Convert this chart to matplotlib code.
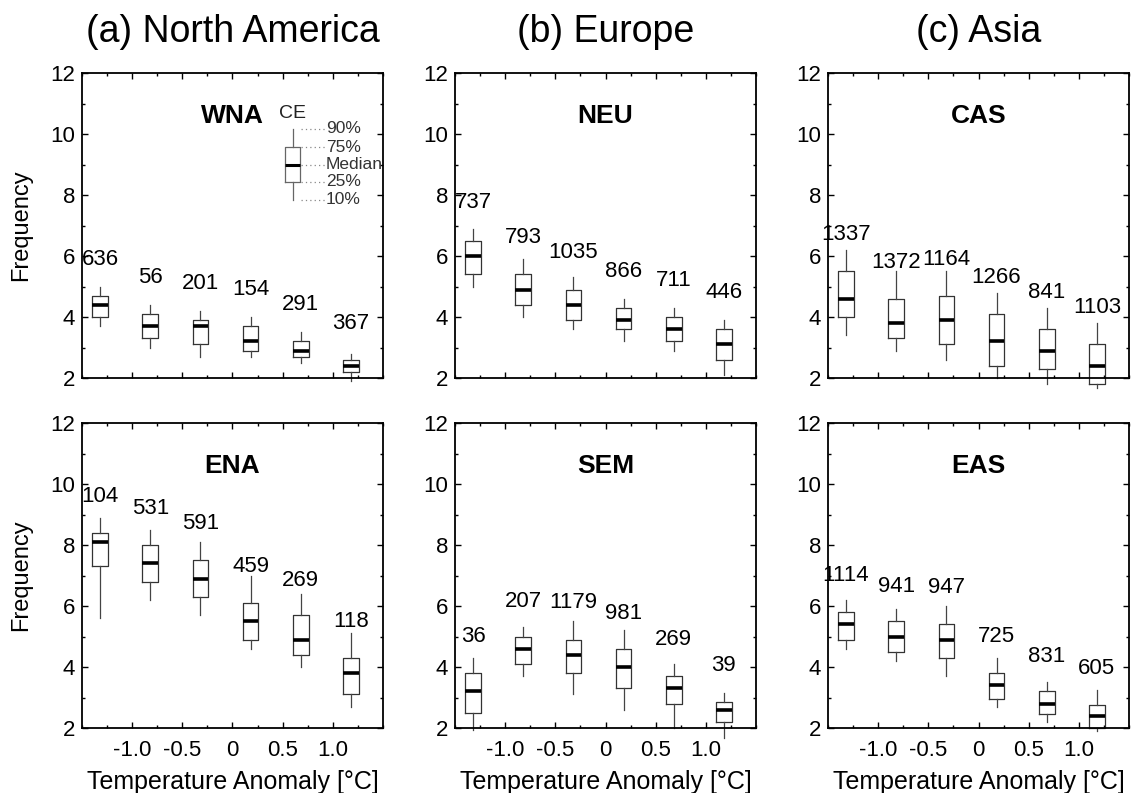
import matplotlib.pyplot as plt
import numpy as np
from matplotlib.ticker import MultipleLocator

plt.rcParams['font.family'] = ['Liberation Sans', 'DejaVu Sans']

# bin centres of temperature anomaly
positions = [-1.32, -0.82, -0.32, 0.18, 0.68, 1.18]

# WNA
wna_p10 = [3.7, 3.0, 2.7, 2.7, 2.5, 1.9]
wna_p25 = [4.0, 3.3, 3.1, 2.9, 2.7, 2.2]
wna_med = [4.4, 3.7, 3.7, 3.2, 2.9, 2.4]
wna_p75 = [4.7, 4.1, 3.9, 3.7, 3.2, 2.6]
wna_p90 = [5.0, 4.4, 4.2, 4.0, 3.5, 2.8]
wna_n = [636, 56, 201, 154, 291, 367]
wna_lab = [5.9, 5.3, 5.1, 4.9, 4.4, 3.8]

# NEU
neu_p10 = [5.0, 4.0, 3.6, 3.2, 2.9, 2.1]
neu_p25 = [5.4, 4.4, 3.9, 3.6, 3.2, 2.6]
neu_med = [6.0, 4.9, 4.4, 3.9, 3.6, 3.1]
neu_p75 = [6.5, 5.4, 4.9, 4.3, 4.0, 3.6]
neu_p90 = [6.9, 5.9, 5.3, 4.6, 4.3, 3.9]
neu_n = [737, 793, 1035, 866, 711, 446]
neu_lab = [7.75, 6.6, 6.1, 5.5, 5.2, 4.8]

# CAS
cas_p10 = [3.4, 2.9, 2.6, 2.0, 1.8, 1.67]
cas_p25 = [4.0, 3.3, 3.1, 2.4, 2.3, 1.8]
cas_med = [4.6, 3.8, 3.9, 3.2, 2.9, 2.4]
cas_p75 = [5.5, 4.6, 4.7, 4.1, 3.6, 3.1]
cas_p90 = [6.2, 5.5, 5.5, 4.8, 4.3, 3.8]
cas_n = [1337, 1372, 1164, 1266, 841, 1103]
cas_lab = [6.7, 5.8, 5.9, 5.3, 4.8, 4.3]

# ENA
ena_p10 = [5.6, 6.2, 5.7, 4.6, 4.0, 2.7]
ena_p25 = [7.3, 6.8, 6.3, 4.9, 4.4, 3.1]
ena_med = [8.1, 7.4, 6.9, 5.5, 4.9, 3.8]
ena_p75 = [8.4, 8.0, 7.5, 6.1, 5.7, 4.3]
ena_p90 = [8.9, 8.5, 8.1, 7.0, 6.4, 5.1]
ena_n = [104, 531, 591, 459, 269, 118]
ena_lab = [9.6, 9.2, 8.7, 7.3, 6.85, 5.5]

# SEM
sem_p10 = [1.95, 3.7, 3.1, 2.6, 2.0, 1.67]
sem_p25 = [2.5, 4.1, 3.8, 3.3, 2.8, 2.2]
sem_med = [3.2, 4.6, 4.4, 4.0, 3.3, 2.6]
sem_p75 = [3.8, 5.0, 4.9, 4.6, 3.7, 2.85]
sem_p90 = [4.3, 5.3, 5.5, 5.2, 4.1, 3.15]
sem_n = [36, 207, 1179, 981, 269, 39]
sem_lab = [5.0, 6.15, 6.1, 5.75, 4.9, 4.05]

# EAS
eas_p10 = [4.6, 4.2, 3.7, 2.7, 2.2, 1.9]
eas_p25 = [4.9, 4.5, 4.3, 2.95, 2.45, 2.0]
eas_med = [5.4, 5.0, 4.9, 3.4, 2.8, 2.4]
eas_p75 = [5.8, 5.5, 5.4, 3.8, 3.2, 2.75]
eas_p90 = [6.2, 5.9, 6.0, 4.3, 3.5, 3.25]
eas_n = [1114, 941, 947, 725, 831, 605]
eas_lab = [7.0, 6.65, 6.6, 5.0, 4.35, 3.95]

# key box (CE)
key_x = 0.6
key_stats = [7.85, 8.43, 9.0, 9.57, 10.17]
key_labels = ['10%', '25%', 'Median', '75%', '90%']

titles = ['(a) North America', '(b) Europe', '(c) Asia']

panels = [
    ('WNA', wna_p10, wna_p25, wna_med, wna_p75, wna_p90, wna_n, wna_lab),
    ('NEU', neu_p10, neu_p25, neu_med, neu_p75, neu_p90, neu_n, neu_lab),
    ('CAS', cas_p10, cas_p25, cas_med, cas_p75, cas_p90, cas_n, cas_lab),
    ('ENA', ena_p10, ena_p25, ena_med, ena_p75, ena_p90, ena_n, ena_lab),
    ('SEM', sem_p10, sem_p25, sem_med, sem_p75, sem_p90, sem_n, sem_lab),
    ('EAS', eas_p10, eas_p25, eas_med, eas_p75, eas_p90, eas_n, eas_lab),
]

W, H = 1131, 793
fig = plt.figure(figsize=(W / 100, H / 100), dpi=100)

lefts = [82, 455, 828]
tops = [73, 423]
aw, ah = 301, 305

box_kw = dict(showcaps=False, showfliers=False, manage_ticks=False, widths=0.155,
              boxprops=dict(color='#333333', linewidth=0.9),
              whiskerprops=dict(color='#444444', linewidth=0.9),
              medianprops=dict(color='black', linewidth=2.6))

axes = []
for i, (name, p10, p25, med, p75, p90, n, lab) in enumerate(panels):
    row, col = divmod(i, 3)
    ax = fig.add_axes([lefts[col] / W, 1 - (tops[row] + ah) / H, aw / W, ah / H])
    axes.append(ax)
    stats = [dict(whislo=a, q1=b, med=c, q3=d, whishi=e)
             for a, b, c, d, e in zip(p10, p25, med, p75, p90)]
    arts = ax.bxp(stats, positions=positions, **box_kw)
    for k in arts:
        for a in arts[k]:
            a.set_clip_on(False)
    for x, cnt, y in zip(positions, n, lab):
        ax.text(x, y, str(cnt), ha='center', va='center', fontsize=16, clip_on=False)
    ax.text(0.0, 10.6, name, ha='center', va='center', fontsize=19, fontweight='bold')

    ax.set_xlim(-1.5, 1.5)
    ax.set_ylim(2, 12)
    ax.set_xticks([-1.0, -0.5, 0, 0.5, 1.0])
    ax.set_xticklabels(['-1.0', '-0.5', '0', '0.5', '1.0'])
    ax.xaxis.set_minor_locator(MultipleLocator(0.25))
    ax.set_yticks([2, 4, 6, 8, 10, 12])
    ax.yaxis.set_minor_locator(MultipleLocator(1))
    ax.tick_params(which='both', direction='in', top=True, right=True, labelsize=16)
    ax.tick_params(which='major', length=4.5, width=1)
    ax.tick_params(which='minor', length=2.5, width=1)
    ax.tick_params(axis='y', pad=5)
    ax.tick_params(axis='x', pad=9)
    for s in ax.spines.values():
        s.set_linewidth(1.3)
    if row == 0:
        ax.tick_params(labelbottom=False)
        fig.text((lefts[col] + aw / 2) / W, 1 - 32 / H, titles[col],
                 ha='center', va='center', fontsize=27)
    else:
        ax.set_xlabel('Temperature Anomaly [°C]', fontsize=18, labelpad=6)
    if col == 0:
        ax.set_ylabel('Frequency', fontsize=17, labelpad=13)

# key box in WNA panel
ax = axes[0]
kb = ax.bxp([dict(whislo=key_stats[0], q1=key_stats[1], med=key_stats[2],
                  q3=key_stats[3], whishi=key_stats[4])],
            positions=[key_x], showcaps=False, showfliers=False, manage_ticks=False,
            widths=0.155,
            boxprops=dict(color='#666666', linewidth=0.9),
            whiskerprops=dict(color='#666666', linewidth=0.9),
            medianprops=dict(color='black', linewidth=2.2))
ax.text(key_x, 10.66, 'CE', ha='center', va='center', fontsize=14, color='#222222')
for v, t in zip(key_stats, key_labels):
    ax.plot([key_x + 0.08, key_x + 0.32], [v, v], linestyle=(0, (1, 2.5)),
            color='#888888', linewidth=0.9)
    ax.text(key_x + 0.33, v, t, ha='left', va='center', fontsize=12.5, color='#333333',
            clip_on=False)

fig.savefig('out.png', dpi=100)
